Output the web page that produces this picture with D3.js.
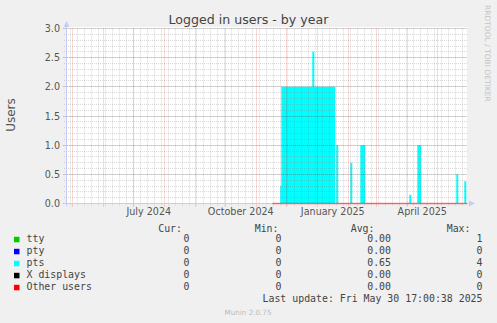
<!DOCTYPE html>
<html>
<head>
<meta charset="utf-8">
<script src="https://cdn.jsdelivr.net/npm/d3@7"></script>
<style>
  html, body { margin: 0; padding: 0; background: #f0f0f0; }
  svg { display: block; }
</style>
</head>
<body>
<script>
// pts (cyan) change points, each value holds until the next date (daily averages)
const ptsDates = ['2024-11-17', '2024-11-25', '2024-11-26', '2024-12-27', '2024-12-29', '2025-01-19',
  '2025-01-20', '2025-01-22', '2025-02-03', '2025-02-05', '2025-02-13', '2025-02-18',
  '2025-04-03', '2025-04-05', '2025-04-11', '2025-04-15', '2025-05-20', '2025-05-22',
  '2025-05-28', '2025-05-30'];
const ptsValues = [0, 0.3, 2.0, 2.6, 2.0, 0, 1.0, 0, 0.7, 0, 1.0, 0, 0.15, 0, 1.0, 0, 0.5, 0, 0.38, 0];

// legend table
const seriesNames = ['tty', 'pty', 'pts', 'X displays', 'Other users'];
const seriesColors = ['#00cc00', '#0000ff', '#00ffff', '#000000', '#ff0000'];
const curValues = ['0', '0', '0', '0', '0'];
const minValues = ['0', '0', '0', '0', '0'];
const avgValues = ['0.00', '0.00', '0.65', '0.00', '0.00'];
const maxValues = ['1', '0', '4', '0', '0'];

// x axis labels (quarterly months)
const labelMonths = ['2024-07', '2024-10', '2025-01', '2025-04'];

const W = 497, H = 323;
const parse = d3.timeParse('%Y-%m-%d');
const parseMonth = d3.timeParse('%Y-%m');

const tStart = new Date(2024, 3, 25, 17, 0, 38);
const tEnd = new Date(2025, 4, 30, 17, 0, 38);

const x = d3.scaleTime().domain([tStart, tEnd]).range([67, 467]);
const y = d3.scaleLinear().domain([0, 3]).range([203.5, 28.5]);

const px = v => Math.round(v - 0.5) + 0.5;

const svg = d3.select('body').append('svg')
  .attr('width', W)
  .attr('height', H);

svg.append('rect').attr('width', W).attr('height', H).attr('fill', '#f0f0f0');

// plot canvas
svg.append('rect')
  .attr('x', 67).attr('y', 27)
  .attr('width', 400).attr('height', 177)
  .attr('fill', '#ffffff');

// data
const ptsData = ptsDates.map((d, i) => ({ date: parse(d), value: ptsValues[i] }));
ptsData.push({ date: tEnd, value: 0 });

const area = d3.area()
  .x(d => x(d.date))
  .y0(y(0))
  .y1(d => y(d.value))
  .curve(d3.curveStepAfter);

svg.append('path')
  .datum(ptsData)
  .attr('d', area)
  .attr('fill', '#00ffff');

// grid (drawn over the area, like rrdtool)
const grid = svg.append('g');
const weeks = d3.timeMonday.range(tStart, tEnd);
const months = d3.timeMonth.range(tStart, tEnd);
const yMinor = y.ticks(30);
const yMajor = y.ticks(6);
const minorColor = 'rgba(128,128,128,0.3)';
const majorColor = 'rgba(225,0,0,0.3)';

grid.selectAll('.vmin').data(weeks).enter().append('line')
  .attr('x1', d => px(x(d))).attr('x2', d => px(x(d)))
  .attr('y1', y(3)).attr('y2', 206)
  .attr('stroke', minorColor)
  .attr('stroke-dasharray', '1,1');

grid.selectAll('.hmin').data(yMinor).enter().append('line')
  .attr('x1', 64).attr('x2', 467)
  .attr('y1', d => px(y(d))).attr('y2', d => px(y(d)))
  .attr('stroke', minorColor)
  .attr('stroke-dasharray', '1,1');

grid.selectAll('.vmaj').data(months).enter().append('line')
  .attr('x1', d => px(x(d))).attr('x2', d => px(x(d)))
  .attr('y1', y(3)).attr('y2', 207)
  .attr('stroke', majorColor)
  .attr('stroke-dasharray', '1,1');

grid.selectAll('.hmaj').data(yMajor).enter().append('line')
  .attr('x1', 63).attr('x2', 467)
  .attr('y1', d => px(y(d))).attr('y2', d => px(y(d)))
  .attr('stroke', majorColor)
  .attr('stroke-dasharray', '1,1');

// axes
const axisColor = '#c6ccf5';
svg.append('line')
  .attr('x1', 66.5).attr('x2', 66.5)
  .attr('y1', 206).attr('y2', 25)
  .attr('stroke', axisColor);
svg.append('path')
  .attr('d', 'M63.5,27 L66.5,21 L69.5,27 Z')
  .attr('fill', axisColor);
svg.append('line')
  .attr('x1', 64).attr('x2', 470)
  .attr('y1', 203.5).attr('y2', 203.5)
  .attr('stroke', axisColor);
svg.append('path')
  .attr('d', 'M469,200.5 L475,203.5 L469,206.5 Z')
  .attr('fill', axisColor);

// "Other users" line at zero where data exists
svg.append('line')
  .attr('x1', x(ptsData[0].date)).attr('x2', 467)
  .attr('y1', 203.5).attr('y2', 203.5)
  .attr('stroke', '#ff0000')
  .attr('stroke-opacity', 0.5)
  .attr('stroke-width', 1.5);

// tick labels
svg.selectAll('.ylab').data(yMajor).enter().append('text')
  .attr('x', 60)
  .attr('y', d => y(d) + 3.6)
  .attr('text-anchor', 'end')
  .attr('font-family', 'DejaVu Sans')
  .attr('font-size', '9.6px')
  .attr('fill', '#555')
  .text(d3.format('.1f'));

const fmtMonth = d3.timeFormat('%B %Y');
svg.selectAll('.xlab').data(labelMonths.map(parseMonth)).enter().append('text')
  .attr('x', d => (x(d) + x(d3.timeMonth.offset(d, 1))) / 2)
  .attr('y', 214.5)
  .attr('text-anchor', 'middle')
  .attr('font-family', 'DejaVu Sans')
  .attr('font-size', '9.6px')
  .attr('fill', '#555')
  .text(fmtMonth);

// title and labels
svg.append('text')
  .attr('x', 248.5).attr('y', 24)
  .attr('text-anchor', 'middle')
  .attr('font-family', 'DejaVu Sans')
  .attr('font-size', '12.6px')
  .attr('fill', '#444')
  .text('Logged in users - by year');

svg.append('text')
  .attr('transform', 'translate(15,115) rotate(-90)')
  .attr('text-anchor', 'middle')
  .attr('font-family', 'DejaVu Sans')
  .attr('font-size', '12px')
  .attr('fill', '#555')
  .text('Users');

svg.append('text')
  .attr('transform', 'translate(485,5) rotate(90)')
  .attr('font-family', 'DejaVu Sans')
  .attr('font-size', '7.5px')
  .attr('fill', '#c4c4c4')
  .text('RRDTOOL / TOBI OETIKER');

// legend
const mono = 'DejaVu Sans Mono';
const legend = svg.append('g')
  .attr('font-family', mono)
  .attr('font-size', '9.9px')
  .attr('fill', '#444');

const cols = [
  { head: 'Cur:', headX: 182, valX: 189.5, vals: curValues },
  { head: 'Min:', headX: 278.5, valX: 281.5, vals: minValues },
  { head: 'Avg:', headX: 374.5, valX: 391, vals: avgValues },
  { head: 'Max:', headX: 470.5, valX: 482.5, vals: maxValues }
];

cols.forEach(c => {
  legend.append('text')
    .attr('x', c.headX).attr('y', 231.5)
    .attr('text-anchor', 'end')
    .text(c.head);
});

seriesNames.forEach((name, i) => {
  const by = 242.3 + i * 12;
  legend.append('rect')
    .attr('x', 14).attr('y', by - 5.5)
    .attr('width', 5.5).attr('height', 5.5)
    .attr('fill', seriesColors[i]);
  legend.append('text')
    .attr('x', 26.5).attr('y', by)
    .text(name);
  cols.forEach(c => {
    legend.append('text')
      .attr('x', c.valX).attr('y', by)
      .attr('text-anchor', 'end')
      .text(c.vals[i]);
  });
});

legend.append('text')
  .attr('x', 482.5).attr('y', 301.7)
  .attr('text-anchor', 'end')
  .text('Last update: Fri May 30 17:00:38 2025');

svg.append('text')
  .attr('x', 248).attr('y', 315)
  .attr('text-anchor', 'middle')
  .attr('font-family', 'DejaVu Sans')
  .attr('font-size', '7.2px')
  .attr('fill', '#bbb')
  .text('Munin 2.0.75');
</script>
</body>
</html>
